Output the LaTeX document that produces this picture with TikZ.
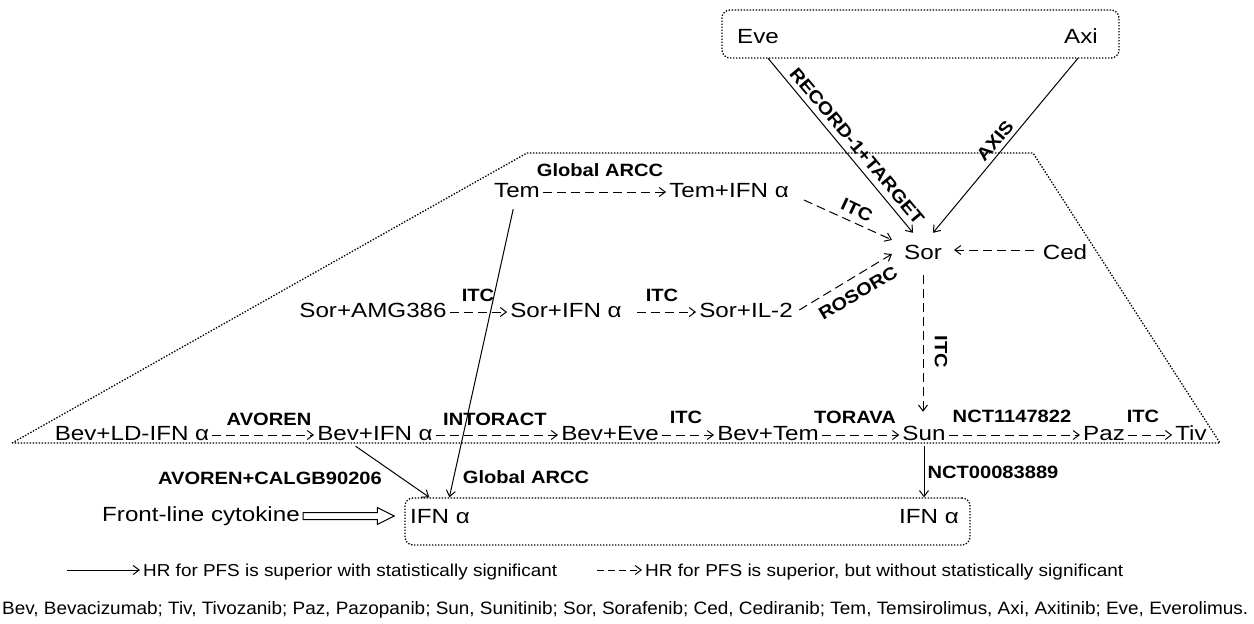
\documentclass[tikz,border=0pt]{standalone}
\usepackage{fontspec}
\usepackage{graphicx}
\newfontfamily\mainf[FakeStretch=1.18]{Liberation Sans}
\newfontfamily\lblf[FakeStretch=1.13]{Liberation Sans}
\newfontfamily\legf{Liberation Sans}
\usetikzlibrary{arrows.meta,calc}
\begin{document}
\begin{tikzpicture}[x=1pt,y=-1pt,
  txt/.style={font={\fontsize{20.5}{23}\mainf}, inner xsep=3pt, inner ysep=2pt, text height=14pt, text depth=4pt, anchor=base},
  lbl/.style={font={\fontsize{17.8}{20}\lblf\bfseries}, inner sep=0pt},
  dashar/.style={line width=1pt, dash pattern=on 9pt off 5pt, -{Straight Barb[length=6pt,width=9pt]}},
  solidar/.style={line width=1pt, -{Straight Barb[length=6pt,width=9pt]}},
  dotline/.style={line width=1.3pt, dash pattern=on 1.4pt off 1.6pt},
  dotbox/.style={draw, dotline, rounded corners=8pt, inner sep=0pt}
]
\useasboundingbox (0,0) rectangle (1254,624);

% boxes
\node[dotbox, minimum width=397pt, minimum height=48pt] (topbox) at (920.5,34) {};
\node[dotbox, minimum width=565pt, minimum height=47pt] (ifnbox) at (687.5,521.5) {};

% dotted trapezoid
\draw[dotline] (12,443) -- (527,153) -- (1033,153) -- (1220,443) -- cycle;

% main nodes
\node[txt, inner ysep=11pt] (Eve) at (758,43) {Eve};
\node[txt, inner ysep=11pt] (Axi) at (1081,43) {Axi};
\node[txt] (Tem) at (517,197) {Tem};
\node[txt] (TemIFN) at (729,197) {Tem+IFN α};
\node[txt, inner xsep=12pt, inner ysep=12pt] (Sor) at (923,259) {Sor};
\node[txt] (Ced) at (1065,259) {Ced};
\node[txt] (SorAMG) at (373,317) {Sor+AMG386};
\node[txt] (SorIFN) at (566,317) {Sor+IFN α};
\node[txt] (SorIL) at (746,317) {Sor+IL-2};
\node[txt] (BevLD) at (132,440) {Bev+LD-IFN α};
\node[txt] (BevIFN) at (375,440) {Bev+IFN α};
\node[txt] (BevEve) at (610,440) {Bev+Eve};
\node[txt] (BevTem) at (768,440) {Bev+Tem};
\node[txt] (Sun) at (924,440) {Sun};
\node[txt] (Paz) at (1104,440) {Paz};
\node[txt] (Tiv) at (1191,440) {Tiv};
\node[txt] (Front) at (201,521) {Front-line cytokine};
\node[txt] (IFNa) at (440,523) {IFN α};
\node[txt] (IFNb) at (929,523) {IFN α};

\coordinate (ifnA) at ([xshift=25pt]ifnbox.north west);
\coordinate (ifnB) at ([xshift=45pt]ifnbox.north west);

% connectors into Sor
\draw[solidar] ([xshift=10pt]Eve.south) -- ([xshift=-10pt]Sor.north);
\draw[solidar] ([xshift=-3pt]Axi.south) -- ([xshift=10pt]Sor.north);
\draw[dashar] ([xshift=12pt,yshift=-8pt]TemIFN.east) -- (Sor);
\draw[dashar, shorten <=4pt] (SorIL.east) -- (Sor.west);
\draw[dashar, shorten <=6pt] ([yshift=4pt]Ced.west) -- ([yshift=4pt]Sor.east);

% Tem row
\draw[dashar] (Tem) -- (TemIFN);
% Sor row
\draw[dashar] (SorAMG) -- (SorIFN);
\draw[dashar, shorten <=12pt] (SorIFN) -- (SorIL);
% Sor to Sun
\draw[dashar, shorten >=12pt] (Sor.south) -- (Sor.south |- Sun.north);
% bottom row
\draw[dashar] (BevLD) -- (BevIFN);
\draw[dashar] (BevIFN) -- (BevEve);
\draw[dashar] (BevEve) -- (BevTem);
\draw[dashar] (BevTem) -- (Sun);
\draw[dashar] (Sun) -- (Paz);
\draw[dashar] (Paz) -- (Tiv);
% to IFN box
\draw[solidar, shorten <=6pt] (Tem) -- (ifnB);
\draw[solidar] (BevIFN.-150) -- (ifnA);
\draw[solidar] (Sun.south) -- (Sun.south |- ifnbox.north);

% hollow arrow front-line
\coordinate (fa) at (Front.east);
\coordinate (fb) at ([xshift=-10pt]ifnbox.west |- Front);
\draw[line width=1pt, line join=miter] ($(fa)+(0,-3.5)$) -- ($(fb)+(-17,-3.5)$) -- ($(fb)+(-17,-8.5)$) -- (fb) -- ($(fb)+(-17,8.5)$) -- ($(fb)+(-17,3.5)$) -- ($(fa)+(0,3.5)$) -- cycle;

% labels
\node[lbl, anchor=base] (lGA1) at (600,176) {Global ARCC};
\node[lbl, anchor=base] (lITC1) at (478,301) {ITC};
\node[lbl, anchor=base] (lITC2) at (662,301) {ITC};
\node[lbl, anchor=base] (lAV) at (269,425) {AVOREN};
\node[lbl, anchor=base] (lINT) at (495,425) {INTORACT};
\node[lbl, anchor=base] (lITC3) at (686,423) {ITC};
\node[lbl, anchor=base] (lTOR) at (855,423) {TORAVA};
\node[lbl, anchor=base] (lNCT1) at (1012,422) {NCT1147822};
\node[lbl, anchor=base] (lITC4) at (1143,422) {ITC};
\node[lbl, anchor=base] (lAVC) at (270,484) {AVOREN+CALGB90206};
\node[lbl, anchor=base] (lGA2) at (526,483) {Global ARCC};
\node[lbl, anchor=base] (lNCT2) at (993,478) {NCT00083889};
\node[lbl, rotate=-50] (lREC) at (857,146) {RECORD-1+TARGET};
\node[lbl, rotate=50] (lAX) at (995,141) {AXIS};
\node[lbl, rotate=-25] (lITC5) at (857,210) {ITC};
\node[lbl, rotate=31] (lROS) at (858,293) {ROSORC};
\node[lbl, rotate=-90] (lITC6) at (941,352) {ITC};

% legend
\coordinate (s1) at (67,570);
\coordinate (s2) at (140,570);
\draw[solidar] (s1) -- (s2);
\node[anchor=base west, inner sep=0pt] (leg1) at (143,576) {\resizebox{414pt}{12.5pt}{\legf HR for PFS is superior with statistically significant}};
\coordinate (d1) at (597,570);
\coordinate (d2) at (642,570);
\draw[dashar, dash pattern=on 7pt off 4pt] (d1) -- (d2);
\node[anchor=base west, inner sep=0pt] (leg2) at (645,576) {\resizebox{478pt}{12.5pt}{\legf HR for PFS is superior, but without statistically significant}};
\node[anchor=base west, inner sep=0pt] (abbr) at (2,614) {\resizebox{1246pt}{13pt}{\legf Bev, Bevacizumab; Tiv, Tivozanib; Paz, Pazopanib; Sun, Sunitinib; Sor, Sorafenib; Ced, Cediranib; Tem, Temsirolimus, Axi, Axitinib; Eve, Everolimus.}};
\end{tikzpicture}
\end{document}
